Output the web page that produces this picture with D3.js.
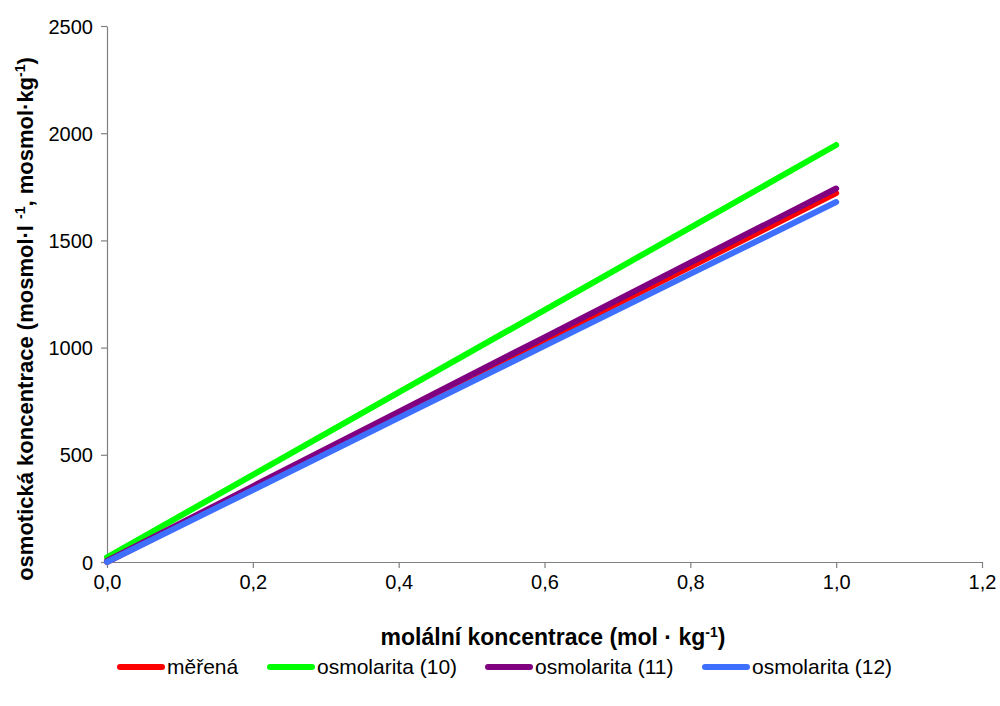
<!DOCTYPE html>
<html>
<head>
<meta charset="utf-8">
<script src="https://cdn.jsdelivr.net/npm/d3@7"></script>
<style>
	body { margin: 0; background: #fff; }
	svg { font-family: "Liberation Sans", Arial, sans-serif; }
</style>
</head>
<body>
<svg id="graph" width="1000" height="706"></svg>
<script>
// x values (mol/kg) and series
const molality = [0, 0.2, 0.4, 0.6, 0.8, 1.0];
const merena = [0, 345, 690, 1033, 1377, 1721];
const osm10 = [22, 406, 791, 1175, 1560, 1945];
const osm11 = [5, 353, 700, 1048, 1396, 1742];
const osm12 = [0, 336, 672, 1008, 1344, 1679];

const xTicks = [0, 0.2, 0.4, 0.6, 0.8, 1.0, 1.2];
const yTicks = [0, 500, 1000, 1500, 2000, 2500];

const seriesNames = ["měřená", "osmolarita (10)", "osmolarita (11)", "osmolarita (12)"];
const seriesColors = ["#ff0000", "#00ff00", "#800080", "#3f6fff"];
const seriesValues = [merena, osm10, osm11, osm12];

const svg = d3.select("#graph");

const xScale = d3.scaleLinear().domain([0, 1.2]).range([107, 982]);
const yScale = d3.scaleLinear().domain([0, 2500]).range([562, 26]);

const comma = (d) => d3.format(".1f")(d).replace(".", ",");

// axes
const xAxis = d3.axisBottom(xScale).tickValues(xTicks).tickFormat(comma).tickSize(6).tickSizeOuter(0);
const yAxis = d3.axisLeft(yScale).tickValues(yTicks).tickFormat(d3.format("d")).tickSize(6).tickSizeOuter(0);

const gx = svg.append("g")
	.attr("transform", "translate(0," + yScale(0) + ")")
	.call(xAxis);
const gy = svg.append("g")
	.attr("transform", "translate(" + xScale(0) + ",0)")
	.call(yAxis);

[gx, gy].forEach((g) => {
	g.select(".domain").attr("stroke", "#808080").attr("stroke-width", 1.2);
	g.selectAll(".tick line").attr("stroke", "#808080").attr("stroke-width", 1.2);
	g.selectAll(".tick text").attr("fill", "#000").style("font-size", "20px");
});
gx.selectAll(".tick text").attr("dy", "0.9em");
gy.selectAll(".tick text").attr("x", -14).attr("dy", "0.35em");

// lines
const line = d3.line()
	.x((d, i) => xScale(molality[i]))
	.y((d) => yScale(d));

seriesValues.forEach((vals, k) => {
	svg.append("path")
		.datum(vals)
		.attr("fill", "none")
		.attr("stroke", seriesColors[k])
		.attr("stroke-width", 6)
		.attr("stroke-linecap", "round")
		.attr("d", line);
});

// axis titles
svg.append("text")
	.attr("x", 553)
	.attr("y", 645)
	.attr("text-anchor", "middle")
	.style("font-size", "23px")
	.style("font-weight", "bold")
	.html('molální koncentrace (mol · kg<tspan dy="-8" font-size="14px">-1</tspan><tspan dy="8">)</tspan>');

svg.append("text")
	.attr("transform", "translate(33,319) rotate(-90)")
	.attr("text-anchor", "middle")
	.style("font-size", "22px")
	.style("font-weight", "bold")
	.html('osmotická koncentrace (mosmol·l <tspan dy="-8" font-size="14px">-1</tspan><tspan dy="8">, mosmol·kg</tspan><tspan dy="-8" font-size="14px">-1</tspan><tspan dy="8">)</tspan>');

// legend
const legendX = [117, 267, 485, 702];
const legend = svg.append("g");
seriesNames.forEach((name, k) => {
	legend.append("line")
		.attr("x1", legendX[k] + 3)
		.attr("x2", legendX[k] + 45)
		.attr("y1", 667)
		.attr("y2", 667)
		.attr("stroke", seriesColors[k])
		.attr("stroke-width", 6)
		.attr("stroke-linecap", "round");
	legend.append("text")
		.attr("x", legendX[k] + 50)
		.attr("y", 674)
		.style("font-size", "21px")
		.text(name);
});
</script>
</body>
</html>
